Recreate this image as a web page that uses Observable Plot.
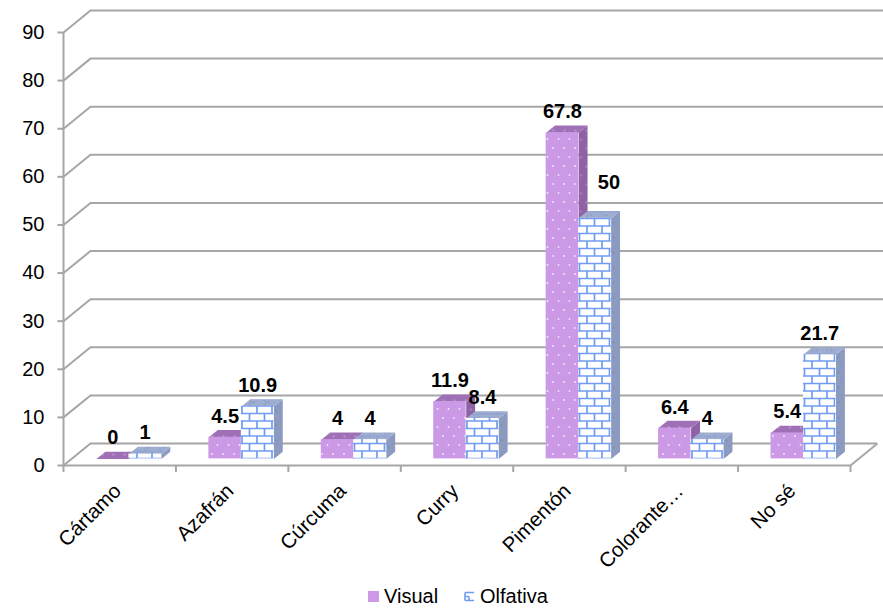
<!DOCTYPE html>
<html>
<head>
<meta charset="utf-8">
<script src="https://cdn.jsdelivr.net/npm/d3@7"></script>
<script src="https://cdn.jsdelivr.net/npm/@observablehq/plot@0.6"></script>
<style>
  html, body { margin: 0; padding: 0; background: #fff; }
  body { width: 883px; height: 612px; overflow: hidden; font-family: "Liberation Sans", Arial, sans-serif; color: #000; }
  #chart svg { display: block; }
  #legend { position: relative; height: 30px; font-size: 20px; }
  #legend .item { position: absolute; top: 2px; display: flex; align-items: center; gap: 5px; line-height: 24px; }
  #legend svg { display: block; }
</style>
</head>
<body>
<div id="chart"></div>
<div id="legend"></div>
<script>
// Spices recognised by sight ("Visual") and by smell ("Olfativa"), in percent
const categories = ["Cártamo", "Azafrán", "Cúrcuma", "Curry", "Pimentón", "Colorante…", "No sé"];
const visual = [0, 4.5, 4, 11.9, 67.8, 6.4, 5.4];
const olfativa = [1, 10.9, 4, 8.4, 50, 4, 21.7];
const seriesNames = ["Visual", "Olfativa"];
const yTicks = [0, 10, 20, 30, 40, 50, 60, 70, 80, 90];

// Oblique projection of the 3D box: a full step in depth moves a point
// DX category units to the right and DY value units upwards.
const DX = 0.24;
const DY = 4.57;
const BAR_W = 0.289;       // column width, in category units
const FRONT = 0.3;         // depth of the column front faces
const BACK = 0.63;         // depth of the column back faces
const GRID = "#a6a6a6";

const series = [visual, olfativa];
const bars = series.flatMap((vals, s) => vals.map((v, i) => {
  const x0 = i + 0.5 + FRONT * DX - BAR_W + s * BAR_W + 0.01;
  return {s, i, v, other: series[1 - s][i], x0, x1: x0 + BAR_W, base: FRONT * DY, top: v + FRONT * DY};
}));
const ddx = (BACK - FRONT) * DX, ddy = (BACK - FRONT) * DY;
const topFaces = bars.flatMap((b) => [
  [b.x0, b.top], [b.x1, b.top], [b.x1 + ddx, b.top + ddy], [b.x0 + ddx, b.top + ddy]
].map(([x, y]) => ({key: `${b.s}-${b.i}`, s: b.s, x, y})));
const sideFaces = bars.flatMap((b) => [
  [b.x1, b.base], [b.x1, b.top], [b.x1 + ddx, b.top + ddy], [b.x1 + ddx, b.base + ddy]
].map(([x, y]) => ({key: `${b.s}-${b.i}`, s: b.s, x, y})));

const fills = [
  {front: "url(#dotsFront)", top: "url(#dotsTop)", side: "url(#dotsSide)"},
  {front: "url(#brickFront)", top: "url(#brickTop)", side: "url(#brickSide)"}
];

const columnMarks = [0, 1].flatMap((s) => [
  Plot.line(sideFaces.filter((d) => d.s === s), {x: "x", y: "y", z: "key", fill: fills[s].side, stroke: "none", curve: "linear"}),
  Plot.line(topFaces.filter((d) => d.s === s), {x: "x", y: "y", z: "key", fill: fills[s].top, stroke: "none", curve: "linear"}),
  Plot.rect(bars.filter((d) => d.s === s), {x1: "x0", x2: "x1", y1: "base", y2: "top", fill: fills[s].front})
]);

const labelStyle = {text: (d) => String(d.v), fontWeight: "bold", fontSize: 20, fill: "#000"};
const center = (d) => (d.x0 + d.x1) / 2;

const svg = Plot.plot({
  width: 883,
  height: 582,
  marginLeft: 63,
  marginRight: 33,
  marginTop: 32,
  marginBottom: 117,
  style: {fontFamily: "'Liberation Sans', Arial, sans-serif", color: "#000", background: "#fff", overflow: "visible"},
  x: {domain: [0, categories.length]},
  y: {domain: [0, 90]},
  marks: [
    // back wall gridlines and their joints with the value axis
    Plot.ruleY(yTicks, {y: (t) => t + DY, x1: DX, x2: (t) => (t === 0 ? categories.length + DX : categories.length + 0.3), stroke: GRID, strokeWidth: 2}),
    Plot.link(yTicks, {x1: 0, y1: (t) => t, x2: DX, y2: (t) => t + DY, stroke: GRID, strokeWidth: 2}),
    // floor outline and value axis line
    Plot.ruleY([0], {x1: 0, x2: categories.length, stroke: GRID, strokeWidth: 2}),
    Plot.link([0], {x1: categories.length, y1: 0, x2: categories.length + DX, y2: DY, stroke: GRID, strokeWidth: 2}),
    Plot.ruleX([0], {y1: 0, y2: 90, stroke: GRID, strokeWidth: 2}),
    Plot.ruleX(d3.range(categories.length + 1), {y1: 0, y2: -1.45, stroke: GRID, strokeWidth: 2}),
    Plot.ruleY(yTicks, {x1: -0.05, x2: 0, stroke: GRID, strokeWidth: 2}),
    ...columnMarks,
    // value labels
    Plot.text(bars.filter((d) => d.s === 0), {x: center, y: "top", dy: -21, ...labelStyle}),
    Plot.text(bars.filter((d) => d.s === 1 && d.other - d.v <= 10), {x: center, y: "top", dy: -21, ...labelStyle}),
    Plot.text(bars.filter((d) => d.s === 1 && d.other - d.v > 10), {x: center, y: "top", dx: 14, dy: -36, ...labelStyle}),
    Plot.axisY(yTicks, {tickSize: 0, tickPadding: 19, fontSize: 20, label: null}),
    Plot.axisX(categories.map((c, i) => i + 0.5), {
      tickFormat: (d) => categories[Math.floor(d)],
      tickRotate: -45, tickSize: 0, tickPadding: 22, dx: -2, fontSize: 20.5, label: null
    })
  ]
});

// textures of the column faces
const defs = d3.select(svg).insert("defs", ":first-child");
function dots(id, bg, dot) {
  const p = defs.append("pattern").attr("id", id).attr("patternUnits", "userSpaceOnUse").attr("width", 11).attr("height", 18);
  p.append("rect").attr("width", 11).attr("height", 18).attr("fill", bg);
  p.append("circle").attr("cx", 3).attr("cy", 4).attr("r", 0.9).attr("fill", dot);
  p.append("circle").attr("cx", 8.5).attr("cy", 13).attr("r", 0.9).attr("fill", dot);
}
function bricks(id, bg, line, width, dot) {
  const p = defs.append("pattern").attr("id", id).attr("patternUnits", "userSpaceOnUse").attr("width", 15).attr("height", 15);
  p.append("rect").attr("width", 15).attr("height", 15).attr("fill", bg);
  p.append("path").attr("d", "M0,1H15M0,8.5H15M2,1V8.5M9.5,8.5V15M9.5,0V1").attr("stroke", line).attr("stroke-width", width).attr("fill", "none");
  if (dot) {
    p.append("circle").attr("cx", 6).attr("cy", 5).attr("r", 0.8).attr("fill", dot);
    p.append("circle").attr("cx", 13).attr("cy", 12).attr("r", 0.8).attr("fill", dot);
  }
}
dots("dotsFront", "#cc99e6", "#f4eafa");
dots("dotsTop", "#9f70b6", "#c6a6d6");
dots("dotsSide", "#8f61a5", "#b592c6");
bricks("brickFront", "#ffffff", "#6f9cf2", 1.7);
bricks("brickTop", "#9fadd0", "#8a9fd2", 1, "#7584ac");
bricks("brickSide", "#8d9bbf", "#8497c6", 0.8, "#6c7ca6");

document.getElementById("chart").appendChild(svg);

// legend
const legend = document.getElementById("legend");
const lefts = [368, 464];
seriesNames.forEach((name, k) => {
  const item = document.createElement("div");
  item.className = "item";
  item.style.left = lefts[k] + "px";
  const sw = d3.create("svg").attr("width", 11).attr("height", 11);
  if (k === 0) {
    sw.append("rect").attr("width", 11).attr("height", 11).attr("fill", "#cc99e6");
  } else {
    sw.append("rect").attr("width", 11).attr("height", 11).attr("fill", "#fff");
    sw.append("path").attr("d", "M1,1.5H10M1,1.5V9.5M1,9.5H10M1,5.5H5M5,5.5V9.5").attr("stroke", "#6f9cf2").attr("stroke-width", 1.6).attr("fill", "none");
  }
  item.appendChild(sw.node());
  const label = document.createElement("span");
  label.textContent = name;
  item.appendChild(label);
  legend.appendChild(item);
});
</script>
</body>
</html>
